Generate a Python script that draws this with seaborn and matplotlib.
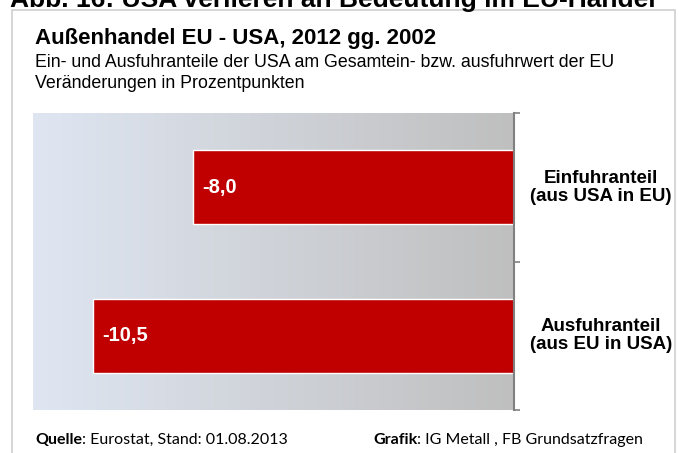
import numpy as np
import pandas as pd
import matplotlib
matplotlib.use("Agg")
import matplotlib.pyplot as plt
from matplotlib.colors import LinearSegmentedColormap
from matplotlib.patches import Rectangle
from matplotlib.transforms import blended_transform_factory
import seaborn as sns

# data
categories = ["Einfuhranteil\n(aus USA in EU)", "Ausfuhranteil\n(aus EU in USA)"]
values = [-8.0, -10.5]
value_labels = ["-8,0", "-10,5"]

df = pd.DataFrame({"kategorie": categories, "wert": values})

sns.set_theme(style="white")
plt.rcParams["font.family"] = ["Liberation Sans", "DejaVu Sans"]
plt.rcParams["text.color"] = "black"

fig = plt.figure(figsize=(6.79, 4.53), dpi=100)
W, H = 679, 453
ax = fig.add_axes([33 / W, 1 - 410 / H, (514 - 33) / W, (410 - 113) / H])

# background gradient light blue -> grey
grad = LinearSegmentedColormap.from_list("bg", ["#dfe6f2", "#bfbfbf"])
ax.imshow(np.linspace(0, 1, 256).reshape(1, -1), cmap=grad, aspect="auto",
          extent=[-12, 0, 1.5, -0.5], zorder=0)

sns.barplot(data=df, x="wert", y="kategorie", orient="h", color="#c00000",
            width=0.5, saturation=1, ax=ax, zorder=2)

ax.set_xlim(-12, 0)
ax.set_ylim(1.5, -0.5)
ax.set_xlabel("")
ax.set_ylabel("")
ax.set_xticks([])
ax.set_yticks([])
ax.set_yticks([-0.5, 0.5, 1.5], minor=True)
ax.tick_params(axis="y", which="minor", right=True, left=False, length=4,
               width=1.2, color="#808080", direction="out")
for s in ["top", "left", "bottom"]:
    ax.spines[s].set_visible(False)
ax.spines["right"].set_color("#808080")
ax.spines["right"].set_linewidth(1.5)

# value labels inside bars
for i, (v, lab) in enumerate(zip(values, value_labels)):
    ax.text(v + 0.22, i, lab, color="white", fontsize=14.5, fontweight="bold",
            ha="left", va="center", zorder=3)

# category labels on the right
trans = blended_transform_factory(fig.transFigure, ax.transData)
for i, cat in enumerate(categories):
    ax.text(601 / W, i, cat, transform=trans, fontsize=13.5, fontweight="bold",
            ha="center", va="center", linespacing=1.1)

# outer frame
fig.patches.append(Rectangle((12 / W, -0.1), (675 - 12) / W, 1.1 - 10 / H,
                             transform=fig.transFigure, fill=False,
                             edgecolor="#d0d0d0", linewidth=1.2))

# heading, cut off at the top edge like in the original
fig.text(10 / W, 1 - 7 / H, "Abb. 16: USA verlieren an Bedeutung im EU-Handel",
         fontsize=19, fontweight="bold", ha="left", va="baseline")

fig.text(35 / W, 1 - 44 / H, "Außenhandel EU - USA, 2012 gg. 2002",
         fontsize=16, fontweight="bold", ha="left", va="baseline")
fig.text(35 / W, 1 - 67 / H,
         "Ein- und Ausfuhranteile der USA am Gesamtein- bzw. ausfuhrwert der EU",
         fontsize=12.8, ha="left", va="baseline")
fig.text(35 / W, 1 - 88 / H, "Veränderungen in Prozentpunkten",
         fontsize=12.8, ha="left", va="baseline")

# footer: bold keyword followed by normal text
footer = [(35, "Quelle", ": Eurostat, Stand: 01.08.2013"),
          (373, "Grafik", ": IG Metall , FB Grundsatzfragen")]
for x0, bold, rest in footer:
    t = fig.text(x0 / W, 1 - 447 / H, bold, fontsize=11.5, fontweight="bold",
                 family="Lato", ha="left", va="bottom")
    ax.annotate(rest, xy=(1, 0), xycoords=t, fontsize=11.5, family="Lato",
                ha="left", va="bottom", annotation_clip=False)

fig.savefig("out.png", dpi=100)
